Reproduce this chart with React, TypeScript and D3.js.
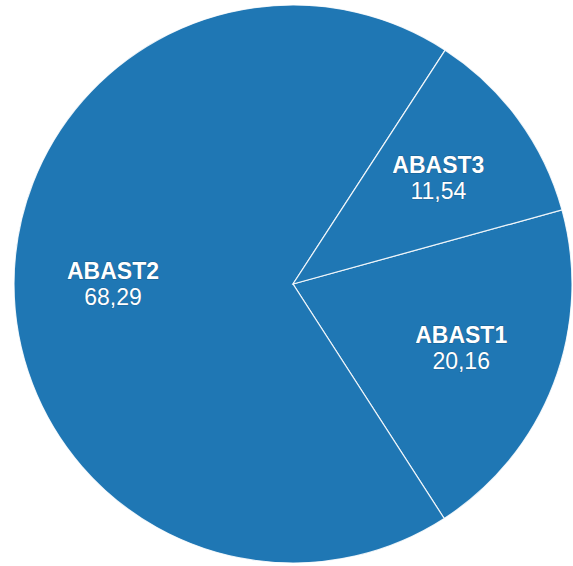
import React from "react";
import * as d3 from "d3";

const categories = ["ABAST1", "ABAST2", "ABAST3"];
const values = [20.16, 68.29, 11.54];
const valueLabels = ["20,16", "68,29", "11,54"];

const W = 573;
const H = 566;
const cx = 293;
const cy = 284;
const R = 279;
const labelR = 180;
const startDeg = 74.6;

export default function App() {
  const data = categories.map((c, i) => ({ c, v: values[i], t: valueLabels[i] }));
  const start = (startDeg * Math.PI) / 180;
  const pie = d3
    .pie<any>()
    .sort(null)
    .value((d) => d.v)
    .startAngle(start)
    .endAngle(start + 2 * Math.PI);
  const arcs = pie(data);
  const arc = d3.arc<any>().innerRadius(0).outerRadius(R);
  const labelArc = d3.arc<any>().innerRadius(labelR).outerRadius(labelR);
  return (
    <svg
      width={W}
      height={H}
      style={{ position: "absolute", left: 0, top: 0, background: "#fff" }}
    >
      <g transform={`translate(${cx},${cy})`}>
        {arcs.map((a, i) => (
          <path key={i} d={arc(a) || ""} fill="#1f77b4" stroke="#ffffff" strokeWidth={1.2} strokeOpacity={0.85} />
        ))}
        {arcs.map((a, i) => {
          const [x, y] = labelArc.centroid(a);
          return (
            <g key={"l" + i} transform={`translate(${x},${y})`} style={{ fontFamily: "Liberation Sans, Arial, sans-serif" }}>
              <text
                y={-5}
                textAnchor="middle"
                fill="#fff"
                fontSize={23}
                fontWeight="bold"
                stroke="rgba(0,0,0,0.25)"
                strokeWidth={1}
                style={{ paintOrder: "stroke" }}
              >
                {a.data.c}
              </text>
              <text
                y={21}
                textAnchor="middle"
                fill="#fff"
                fontSize={23}
                stroke="rgba(0,0,0,0.2)"
                strokeWidth={1}
                style={{ paintOrder: "stroke" }}
              >
                {a.data.t}
              </text>
            </g>
          );
        })}
      </g>
    </svg>
  );
}
